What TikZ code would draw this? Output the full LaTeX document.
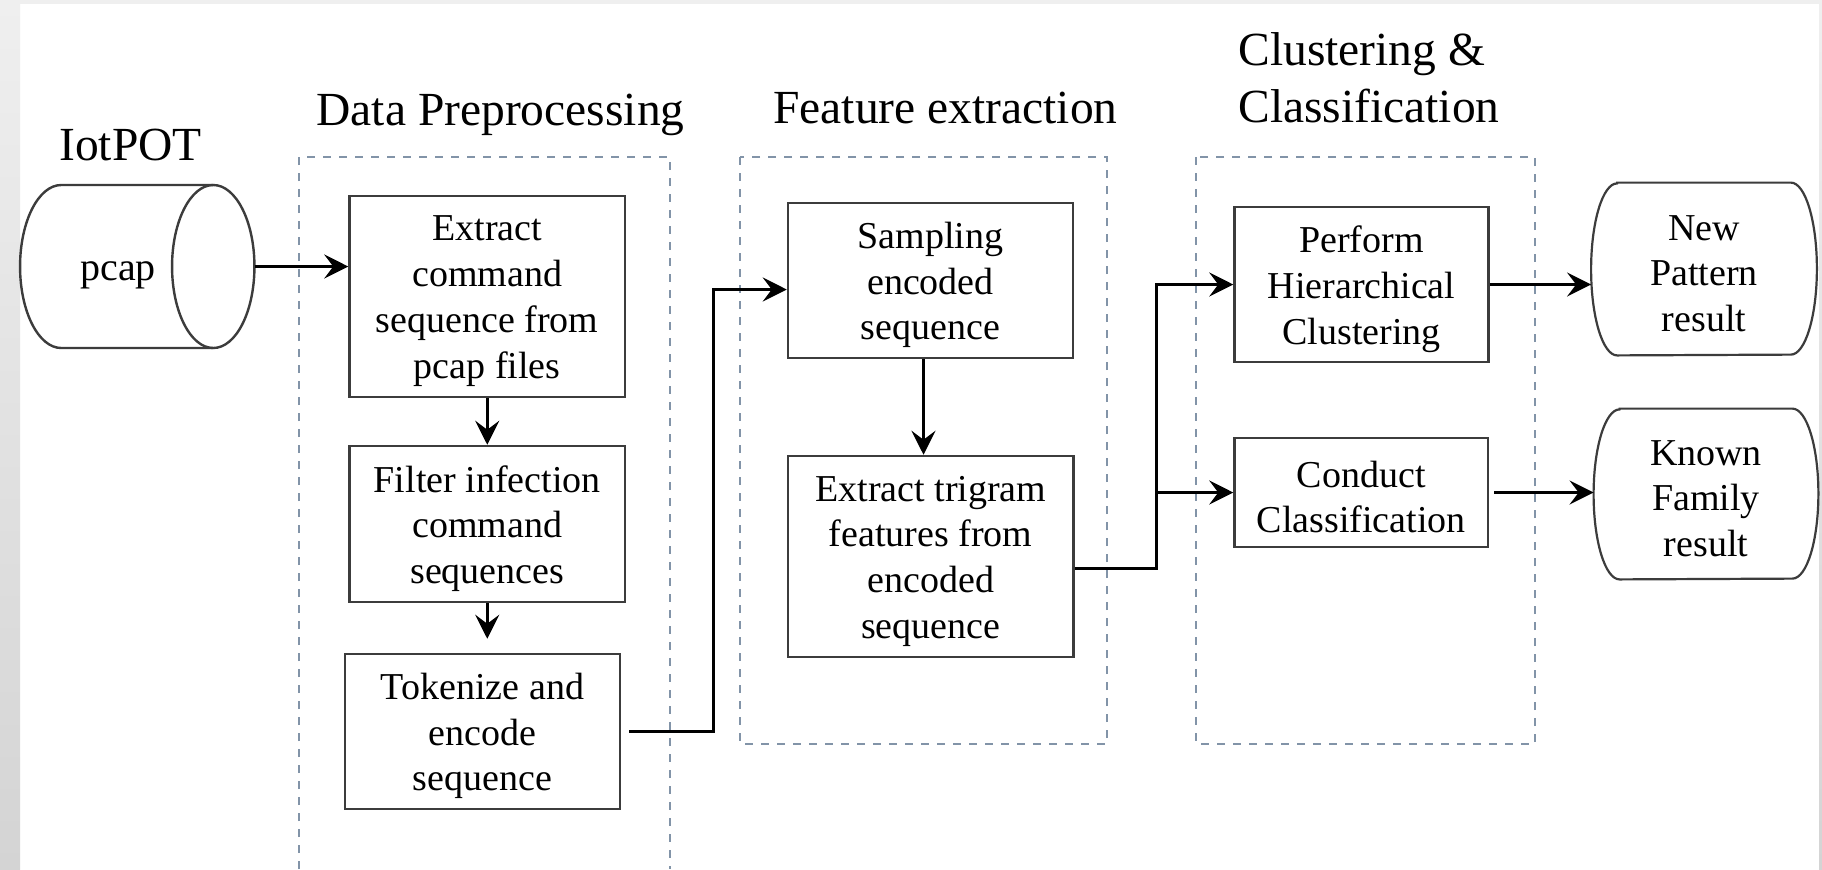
\documentclass[tikz,border=0pt]{standalone}
\usepackage{fontspec}
\setmainfont{Liberation Serif}
\usetikzlibrary{arrows.meta,calc}
\definecolor{boxline}{HTML}{3C3C3C}
\definecolor{stageline}{HTML}{8294A8}
\definecolor{edgegrey}{HTML}{EFEFEF}
\definecolor{edgedark}{HTML}{D4D4D4}
\begin{document}
\begin{tikzpicture}[x=0.5pt,y=-0.5pt,
  stagebox/.style={draw=stageline, line width=1pt, dash pattern=on 4pt off 4pt},
  steptext/.style={inner sep=0pt, align=center, font=\fontsize{19}{22.85}\selectfont},
  procbox/.style={draw=boxline, line width=1.25pt, inner sep=0pt},
  termline/.style={draw=boxline, line width=1.1pt},
  conn/.style={line width=1.5pt, -{Stealth[length=12pt,width=12pt,inset=4.5pt]}},
  heading/.style={inner sep=0pt, font=\fontsize{23.75}{28.5}\selectfont},
  lowered/.style={yshift=-2.3pt},
]
% page and its grey frame
\useasboundingbox (0,0) rectangle (1822,869);
\fill[white] (0,0) rectangle (1822,869);
\shade[top color=edgegrey, bottom color=edgedark] (0,0) rectangle (20,869);
\fill[edgegrey] (20,0) rectangle (1822,4);
\shade[top color=edgegrey, bottom color=edgedark] (1819,4) rectangle (1822,869);

% stage frames
\draw[stagebox] (299,869) -- (299,157) -- (670,157) -- (670,869);
\draw[stagebox] (740,157) rectangle (1107,744);
\draw[stagebox] (1196,157) rectangle (1535,744);

% stage headings
\node[heading, anchor=base] (hiot) at (130.6,160) {IotPOT};
\node[heading, anchor=base] (hpre) at (500.5,125) {Data Preprocessing};
\node[heading, anchor=base] (hfeat) at (945.5,123) {Feature extraction};
\node[heading, anchor=north west, align=left] (hclu) at (1238,32.5) {Clustering \&\\Classification};

% capture store
\node[minimum width=117.25pt, minimum height=81.5pt, inner sep=0pt] (db) at (137.25,266.5) {};
\draw[termline, line width=1.2pt] (213.25,185) -- (61.25,185)
  arc[start angle=90, end angle=270, x radius=20.6pt, y radius=40.75pt] -- (213.25,348);
\draw[termline, line width=1.2pt] (213.25,266.5) ellipse[x radius=20.6pt, y radius=40.75pt];
\node[inner sep=0pt, anchor=base, font=\fontsize{20}{24}\selectfont] (pcaplbl) at (118,280) {pcap};

% processing steps: frame first, then its caption set slightly low
\node[procbox, minimum width=137.75pt, minimum height=100.5pt] (b1) at (487.25,296.5) {};
\node[steptext, lowered] (b1txt) at (b1.center) {Extract\\command\\sequence from\\pcap files};
\node[procbox, minimum width=137.75pt, minimum height=78pt] (b2) at (487.25,524) {};
\node[steptext, lowered] (b2txt) at (b2.center) {Filter infection\\command\\sequences};
\node[procbox, minimum width=137.5pt, minimum height=77.5pt] (b3) at (482.5,731.5) {};
\node[steptext, lowered] (b3txt) at (b3.center) {Tokenize and\\encode\\sequence};
\node[procbox, minimum width=142.5pt, minimum height=77.5pt] (b4) at (930.5,280.5) {};
\node[steptext, lowered] (b4txt) at (b4.center) {Sampling\\encoded\\sequence};
\node[procbox, minimum width=142.75pt, minimum height=100.5pt] (b5) at (930.75,556.5) {};
\node[steptext, lowered] (b5txt) at (b5.center) {Extract trigram\\features from\\encoded\\sequence};
\node[procbox, minimum width=127pt, minimum height=77.5pt] (b6) at (1361.5,284.5) {};
\node[steptext, lowered] (b6txt) at (b6.center) {Perform\\Hierarchical\\Clustering};
\node[procbox, minimum width=126.75pt, minimum height=54.5pt] (b7) at (1361.25,492.5) {};
\node[steptext, lowered] (b7txt) at (b7.center) {Conduct\\Classification};

% results
\node[minimum width=112.5pt, minimum height=86pt, inner sep=0pt] (t1) at (1704,269) {};
\node[steptext, lowered] (t1txt) at (t1.center) {New\\Pattern\\result};
\node[minimum width=112pt, minimum height=85pt, inner sep=0pt] (t2) at (1706,494) {};
\node[steptext, lowered] (t2txt) at (t2.center) {Known\\Family\\result};
\draw[termline] ([xshift=13pt]t1.north west) -- ([xshift=-13pt]t1.north east)
  arc[start angle=90, end angle=-90, x radius=13pt, y radius=43pt]
  -- ([xshift=13pt]t1.south west)
  arc[start angle=270, end angle=90, x radius=13pt, y radius=43pt] -- cycle;
\draw[termline] ([xshift=13pt]t2.north west) -- ([xshift=-13pt]t2.north east)
  arc[start angle=90, end angle=-90, x radius=13pt, y radius=42.5pt]
  -- ([xshift=13pt]t2.south west)
  arc[start angle=270, end angle=90, x radius=13pt, y radius=42.5pt] -- cycle;

% connectors
\coordinate (j1) at (713,0);
\coordinate (j2) at (1156,0);
\coordinate (b4in) at ([yshift=-4.5pt]b4.west);
\coordinate (b3out) at ([xshift=4pt]b3.east);
\coordinate (b5out) at ([yshift=-6pt]b5.east);
\coordinate (b4out) at ([xshift=-3.5pt]b4.south);
\coordinate (b7out) at ([xshift=2.5pt]b7.east);

\draw[conn] (db.east) -- (db.east -| b1.west);
\draw[conn] (b1.south) -- (b2.north);
\draw[conn, shorten >=7pt] (b2.south) -- (b2.south |- b3.north);
\draw[conn] (b3out) -- (b3out -| j1) -- (j1 |- b4in) -- (b4in);
\draw[conn] (b4out) -- (b4out |- b5.north);
\draw[conn] (b5out) -- (b5out -| j2) -- (j2 |- b6.west) -- (b6.west);
\draw[conn] (j2 |- b7.west) -- (b7.west);
\draw[conn] (b6.east) -- (b6.east -| t1.west);
\draw[conn] (b7out) -- (b7out -| t2.west);
\end{tikzpicture}
\end{document}
